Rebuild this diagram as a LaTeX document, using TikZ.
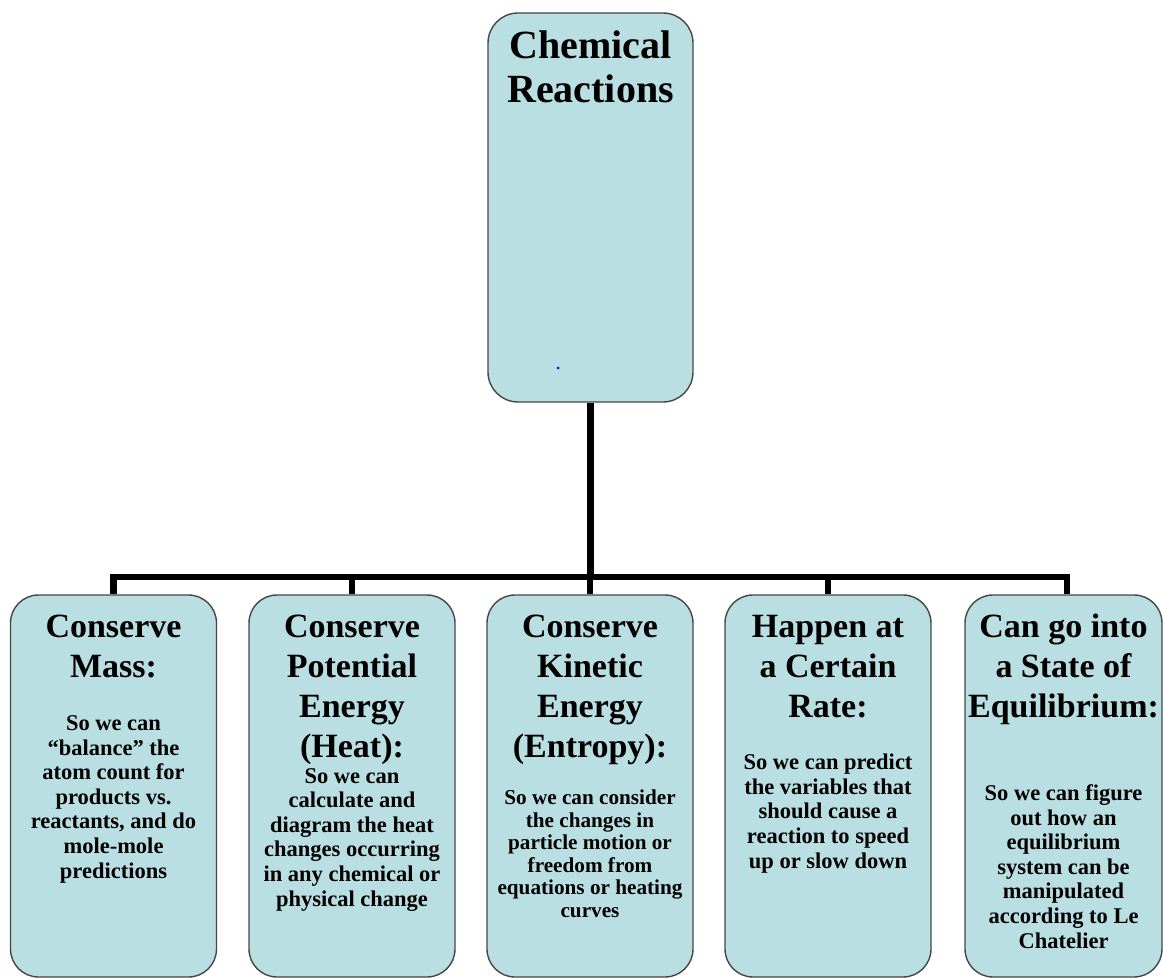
\documentclass[tikz,border=0pt]{standalone}
\usepackage{fontspec}
\setmainfont{Liberation Serif}
\usepackage{tikz}
\usetikzlibrary{positioning,calc}
\definecolor{boxfill}{RGB}{186,223,227}
\definecolor{boxline}{RGB}{70,70,70}

\begin{document}
\begin{tikzpicture}[
    x=1pt, y=-1pt,
    box/.style={rectangle, draw=boxline, line width=1.4pt, fill=boxfill, rounded corners=28pt, minimum width=206pt, minimum height=382pt, inner sep=0pt},
    conn/.style={line width=6.5pt, draw=black},
    title/.style={font=\fontsize{40}{44}\selectfont\bfseries, align=center, inner sep=0pt, anchor=base},
    head/.style={font=\fontsize{34}{40}\selectfont\bfseries, align=center, inner sep=0pt, anchor=base},
    body/.style={font=\fontsize{22.5}{24.6}\selectfont\bfseries, align=center, inner sep=0pt, anchor=base}
]
\useasboundingbox (0,0) rectangle (1163,979);

% Top level: the topic
\node[box, minimum width=205pt, minimum height=389pt, rounded corners=30pt] (top) at (590.5,207.5) {};
\node[title] (topt) at (590.5,103) {Chemical\\Reactions};
\fill[blue] (558,368) circle (1.5pt);

% Bottom level: five boxes
\node[box] (m1) at (113.5,786) {};
\node[box] (m2) at (352,786) {};
\node[box] (m3) at (590,786) {};
\node[box] (m4) at (828,786) {};
\node[box, minimum width=197pt] (m5) at (1063.5,786) {};

% Tree lines
\coordinate (hub) at (590.5,577);
\draw[conn] (top.south) -- (hub);
\foreach \m in {m1,m2,m3,m4}
    \draw[conn] (hub) -| (\m.north);
\draw[conn] (hub) -| ([xshift=3.5pt]m5.north);

% Headings (placed by their last line)
\node[head] (m1h) at (113.5,677) {Conserve\\Mass:};
\node[head] (m2h) at (352,757) {Conserve\\Potential\\Energy\\(Heat):};
\node[head] (m3h) at (590,757) {Conserve\\Kinetic\\Energy\\(Entropy):};
\node[head] (m4h) at (828,717) {Happen at\\a Certain\\Rate:};
\node[head] (m5h) at (1063.5,717) {Can go into\\a State of\\Equilibrium:};

% Explanations (placed by their last line)
\node[body] (m1b) at (113.5,878) {So we can\\“balance” the\\atom count for\\products vs.\\reactants, and do\\mole-mole\\predictions};
\node[body] (m2b) at (352,906) {So we can\\calculate and\\diagram the heat\\changes occurring\\in any chemical or\\physical change};
\node[body, font=\fontsize{21.2}{22.5}\selectfont\bfseries] (m3b) at (590,917) {So we can consider\\the changes in\\particle motion or\\freedom from\\equations or heating\\curves};
\node[body] (m4b) at (828,868) {So we can predict\\the variables that\\should cause a\\reaction to speed\\up or slow down};
\node[body] (m5b) at (1063.5,948) {So we can figure\\out how an\\equilibrium\\system can be\\manipulated\\according to Le\\Chatelier};

\end{tikzpicture}
\end{document}
